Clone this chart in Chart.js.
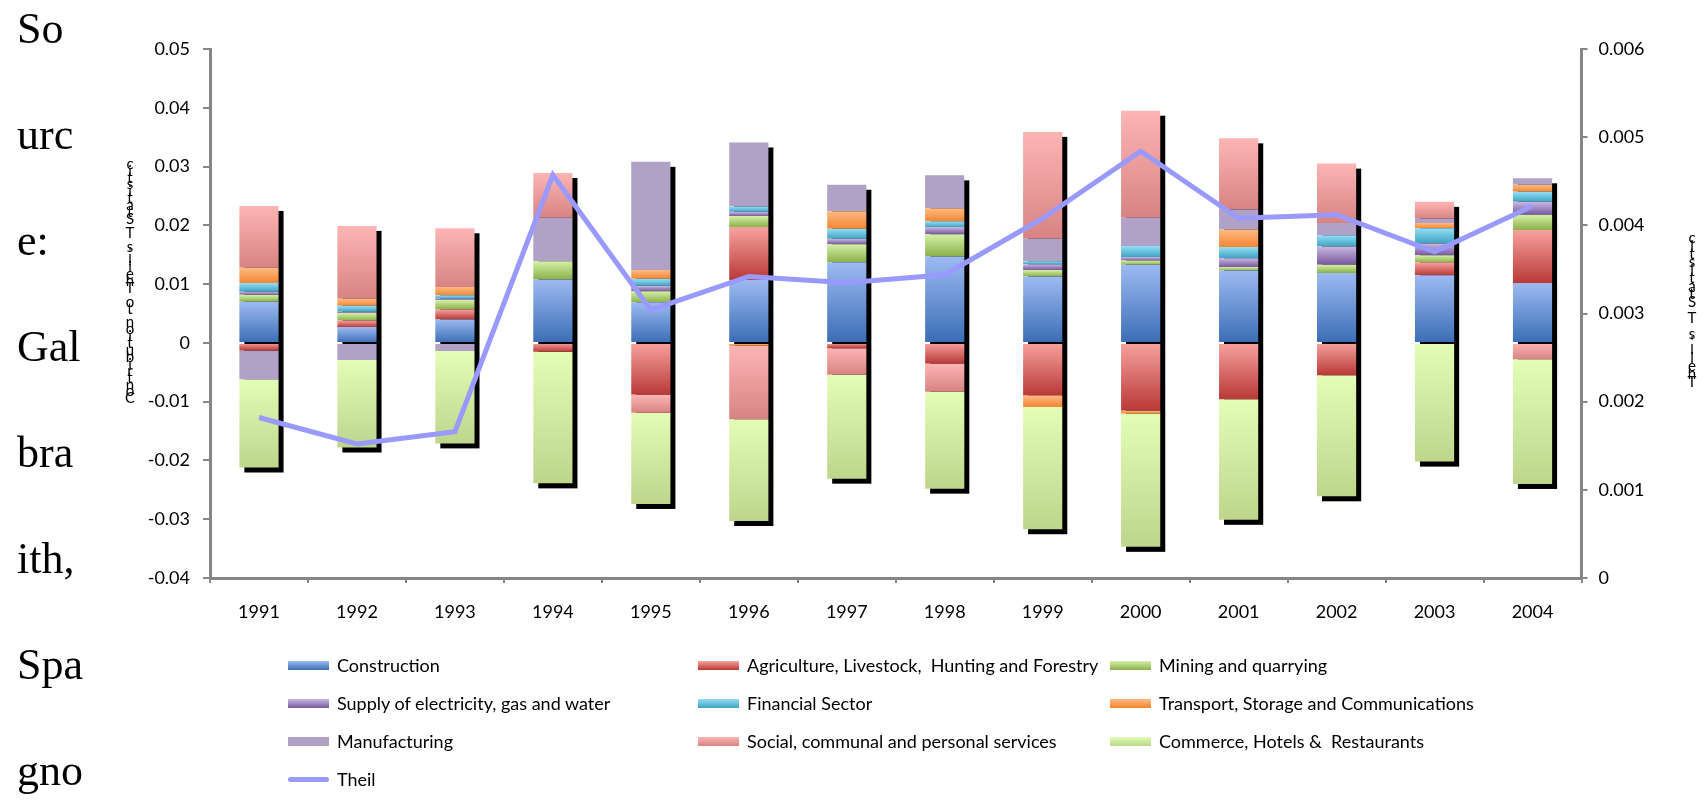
<!DOCTYPE html>
<html>
<head>
<meta charset="utf-8">
<script src="https://cdn.jsdelivr.net/npm/chart.js@4.4.0/dist/chart.umd.min.js"></script>
<style>
body { margin: 0; background: #fff; }
#wrap { position: relative; width: 1706px; height: 801px; overflow: hidden; }
#grafico { position: absolute; left: 0; top: 0; }
#fonte { position: absolute; left: 17px; top: -24px; font-family: "Liberation Serif", serif; font-size: 44px; line-height: 106px; color: #000; }
.item { position: absolute; height: 24px; display: flex; align-items: center; font-family: Lato, sans-serif; font-size: 18px; color: #000; white-space: pre; }
.cor { width: 41px; height: 9px; margin-right: 8px; }
.linha { width: 41px; height: 5px; border-radius: 3px; margin-right: 8px; }
</style>
</head>
<body>
<div id="wrap">
<canvas id="grafico" width="1706" height="801"></canvas>
<div id="fonte">So<br>urc<br>e:<br>Gal<br>bra<br>ith,<br>Spa<br>gno</div>
</div>
<script>
const anos = ['1991', '1992', '1993', '1994', '1995', '1996', '1997', '1998', '1999', '2000', '2001', '2002', '2003', '2004'];

// contribuicoes por setor (eixo esquerdo)
const construction  = [0.0070, 0.0027, 0.0040, 0.0108, 0.0069, 0.0107, 0.0137, 0.0147, 0.0113, 0.0133, 0.0123, 0.0119, 0.0115, 0.0102];
const agriculture   = [-0.0013, 0.0011, 0.0017, -0.0015, -0.0088, 0.0090, -0.0009, -0.0035, -0.0089, -0.0115, -0.0096, -0.0055, 0.0022, 0.0090];
const mining        = [0.0012, 0.0013, 0.0016, 0.0031, 0.0019, 0.0019, 0.0031, 0.0038, 0.0011, 0.0007, 0.0006, 0.0014, 0.0012, 0.0026];
const supply        = [0.0005, 0.0002, 0.0002, 0, 0.0009, 0.0007, 0.0009, 0.0012, 0.0010, 0.0006, 0.0015, 0.0031, 0.0020, 0.0022];
const financial     = [0.0015, 0.0010, 0.0006, 0, 0.0012, 0.0009, 0.0017, 0.0010, 0.0005, 0.0019, 0.0019, 0.0019, 0.0026, 0.0017];
const transport     = [0.0026, 0.0012, 0.0014, 0, 0.0015, -0.0005, 0.0030, 0.0022, -0.0020, -0.0005, 0.0030, 0, 0.0009, 0.0012];
const manufacturing = [-0.0049, -0.0029, -0.0014, 0.0074, 0.0184, 0.0109, 0.0045, 0.0056, 0.0038, 0.0048, 0.0034, 0.0021, 0.0007, 0.0011];
const social        = [0.0105, 0.0124, 0.0100, 0.0076, -0.0031, -0.0125, -0.0045, -0.0048, 0.0182, 0.0182, 0.0121, 0.0101, 0.0029, -0.0028];
const commerce      = [-0.0150, -0.0149, -0.0157, -0.0224, -0.0155, -0.0173, -0.0177, -0.0165, -0.0208, -0.0227, -0.0205, -0.0206, -0.0202, -0.0212];

// indice de Theil (eixo direito)
const theil = [0.00182, 0.00152, 0.00166, 0.00457, 0.00304, 0.00342, 0.00335, 0.00344, 0.00408, 0.00484, 0.00408, 0.00412, 0.00370, 0.00422];

const ticksEsq = { min: -0.04, max: 0.05, passo: 0.01 };
const ticksDir = { min: 0, max: 0.006, passo: 0.001 };
const tituloEsq = "Contribution to Theil's T Statistic";
const tituloDir = "Theil's T Statistic";

const series = [
    { label: 'Construction', data: construction, cores: ['#9DBAF2', '#3A6DB5'] },
    { label: 'Agriculture, Livestock,  Hunting and Forestry', data: agriculture, cores: ['#F7A29E', '#B93937'] },
    { label: 'Mining and quarrying', data: mining, cores: ['#D7F0A8', '#8AB04A'] },
    { label: 'Supply of electricity, gas and water', data: supply, cores: ['#C8B8E2', '#77599F'] },
    { label: 'Financial Sector', data: financial, cores: ['#93DEF7', '#3FA3C1'] },
    { label: 'Transport, Storage and Communications', data: transport, cores: ['#FDBA84', '#F48732'] },
    { label: 'Manufacturing', data: manufacturing, cores: ['#B0A2C7', '#B0A2C7'] },
    { label: 'Social, communal and personal services', data: social, cores: ['#FCB5B4', '#D88383'] },
    { label: 'Commerce, Hotels &  Restaurants', data: commerce, cores: ['#E3FDB6', '#BDD68C'] }
];
const corTheil = '#9999FF';
const cinza = '#868686';

// inicio e fim de cada pedaco da pilha (positivos e negativos empilham separados)
function segmento(di, i) {
    const v = series[di].data[i];
    let base = 0;
    for (let k = 0; k < di; k++) {
        const w = series[k].data[i];
        if (w !== 0 && (w > 0) === (v > 0)) base += w;
    }
    return [base, base + v];
}

function gradiente(ctx) {
    const s = series[ctx.datasetIndex];
    const chart = ctx.chart;
    const y = chart.scales.y;
    if (ctx.type !== 'data' || !chart.chartArea || !y) return s.cores[0];
    const [a, b] = segmento(ctx.datasetIndex, ctx.dataIndex);
    const topo = y.getPixelForValue(Math.max(a, b));
    const fundo = y.getPixelForValue(Math.min(a, b));
    if (!(fundo > topo)) return s.cores[0];
    const g = chart.ctx.createLinearGradient(0, topo, 0, fundo);
    g.addColorStop(0, s.cores[0]);
    g.addColorStop(1, s.cores[1]);
    return g;
}

function rotulo(v) {
    return parseFloat(v.toFixed(4)).toString();
}

// sombra preta atras de cada coluna
const sombra = {
    id: 'sombra',
    beforeDatasetsDraw(chart) {
        const y = chart.scales.y;
        const meta = chart.getDatasetMeta(0);
        const c = chart.ctx;
        c.save();
        c.fillStyle = '#000';
        anos.forEach((a, i) => {
            let pos = 0, neg = 0;
            series.forEach(s => { if (s.data[i] > 0) pos += s.data[i]; else neg += s.data[i]; });
            const el = meta.data[i];
            const t = y.getPixelForValue(pos) + 5;
            const b = y.getPixelForValue(neg) + 5;
            c.fillRect(el.x - el.width / 2 + 5, t, el.width, b - t);
        });
        c.restore();
    }
};

// titulos dos eixos com as letras empilhadas de baixo para cima
function empilhar(c, texto, x, yBase, passo) {
    for (let i = 0; i < texto.length; i++) {
        c.fillText(texto[i], x, yBase - i * passo);
    }
}
const titulos = {
    id: 'titulos',
    afterDraw(chart) {
        const c = chart.ctx;
        c.save();
        c.font = '15px Lato';
        c.fillStyle = '#000';
        c.textAlign = 'center';
        c.textBaseline = 'bottom';
        empilhar(c, tituloEsq, 130, 406, 6.9);
        empilhar(c, tituloDir, 1692, 390, 8);
        c.restore();
    }
};

function legenda() {
    const wrap = document.getElementById('wrap');
    const colunas = [288, 698, 1110];
    const linhas = [665, 703, 741, 779];
    series.forEach((s, k) => {
        const d = document.createElement('div');
        d.className = 'item';
        d.style.left = colunas[k % 3] + 'px';
        d.style.top = (linhas[Math.floor(k / 3)] - 12) + 'px';
        d.innerHTML = '<span class="cor" style="background:linear-gradient(' + s.cores[0] + ',' + s.cores[1] + ')"></span>';
        d.appendChild(document.createTextNode(s.label));
        wrap.appendChild(d);
    });
    const t = document.createElement('div');
    t.className = 'item';
    t.style.left = colunas[0] + 'px';
    t.style.top = (linhas[3] - 12) + 'px';
    t.innerHTML = '<span class="linha" style="background:' + corTheil + '"></span>Theil';
    wrap.appendChild(t);
}

function desenhar() {
    const fonteTick = { family: 'Lato', size: 18 };
    const datasets = series.map(s => ({
        type: 'bar',
        label: s.label,
        data: s.data,
        backgroundColor: gradiente,
        borderWidth: 0,
        barPercentage: 0.4,
        categoryPercentage: 1,
        yAxisID: 'y'
    }));
    datasets.push({
        type: 'line',
        label: 'Theil',
        data: theil,
        yAxisID: 'y1',
        borderColor: corTheil,
        borderWidth: 5,
        pointRadius: 0,
        tension: 0,
        fill: false,
        order: -1
    });

    new Chart(document.getElementById('grafico'), {
        type: 'bar',
        data: { labels: anos, datasets: datasets },
        options: {
            responsive: false,
            animation: false,
            layout: { padding: { left: 118, top: 49, right: 0, bottom: 0 } },
            plugins: { legend: { display: false }, tooltip: { enabled: false } },
            scales: {
                x: {
                    stacked: true,
                    grid: { drawOnChartArea: false, color: cinza, lineWidth: 2, tickLength: 5 },
                    border: { color: cinza, width: 3 },
                    ticks: { font: fonteTick, color: '#000', padding: 18, maxRotation: 0 },
                    afterFit: s => { s.height = 223; }
                },
                y: {
                    stacked: true,
                    position: 'left',
                    min: ticksEsq.min,
                    max: ticksEsq.max,
                    grid: { drawOnChartArea: false, color: cinza, lineWidth: 2, tickLength: 7 },
                    border: { color: cinza, width: 3 },
                    ticks: { stepSize: ticksEsq.passo, callback: rotulo, font: fonteTick, color: '#000', padding: 13 },
                    afterFit: s => { s.width = 92; }
                },
                y1: {
                    position: 'right',
                    min: ticksDir.min,
                    max: ticksDir.max,
                    grid: { drawOnChartArea: false, color: cinza, lineWidth: 2, tickLength: 6 },
                    border: { color: cinza, width: 3 },
                    ticks: { stepSize: ticksDir.passo, callback: rotulo, font: fonteTick, color: '#000', padding: 11 },
                    afterFit: s => { s.width = 124.5; }
                }
            }
        },
        plugins: [sombra, titulos]
    });
    legenda();
}

document.fonts.load('18px Lato').then(desenhar, desenhar);
</script>
</body>
</html>
